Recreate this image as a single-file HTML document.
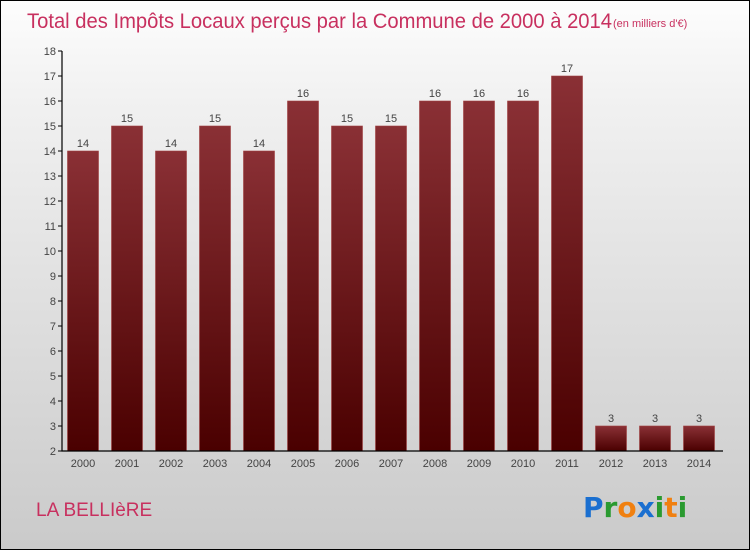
<!DOCTYPE html>
<html><head><meta charset="utf-8"><style>
body{margin:0}
#c{width:748px;height:548px;border:1px solid #000;background:linear-gradient(#fdfdfd,#f0f0f0 20%,#cacaca);position:relative;font-family:"Liberation Sans",sans-serif;overflow:hidden}
</style></head><body>
<div id="c">
<svg width="748" height="548">
<defs><linearGradient id="g" x1="0" y1="0" x2="0" y2="1"><stop offset="0" stop-color="#8a3035"/><stop offset="1" stop-color="#4a0000"/></linearGradient></defs>
<text x="26" y="27" font-size="21" fill="#c8305f" textLength="585" lengthAdjust="spacingAndGlyphs">Total des Impôts Locaux perçus par la Commune de 2000 à 2014</text>
<text x="612" y="26" font-size="11" fill="#c8305f">(en milliers d'€)</text>
<g id="plot"></g>
<text x="35" y="515" font-size="19" fill="#c8305f">LA BELLIèRE</text>
<g font-size="28" font-family="'DejaVu Sans',sans-serif" font-weight="bold">
<text x="582" y="516"><tspan fill="#1a6fd0">P</tspan><tspan fill="#2a9a30">r</tspan><tspan fill="#f08010">o</tspan><tspan fill="#1a6fd0">x</tspan><tspan fill="#2a9a30">i</tspan><tspan fill="#f08010">t</tspan><tspan fill="#2a9a30">i</tspan></text></g>
</svg></div>
<script>
const years=["2000","2001","2002","2003","2004","2005","2006","2007","2008","2009","2010","2011","2012","2013","2014"];
const values=[14,15,14,15,14,16,15,15,16,16,16,17,3,3,3];
const yTicks=[2,3,4,5,6,7,8,9,10,11,12,13,14,15,16,17,18];
const NS="http://www.w3.org/2000/svg",p=document.getElementById('plot');
const y=v=>450-(v-2)*25, x=i=>82+i*44;
function mk(t,a,txt){const e=document.createElementNS(NS,t);for(const k in a)e.setAttribute(k,a[k]);if(txt!=null)e.textContent=txt;p.appendChild(e);return e;}
yTicks.forEach(v=>{const l=mk('line',{x1:57,x2:61,y1:y(v),y2:y(v),stroke:'#000'});
const t=mk('text',{x:55,y:y(v)+4,'font-size':11,fill:'#444','text-anchor':'end'},v);});
values.forEach((v,i)=>{const r=mk('rect',{x:x(i)-15.5,y:y(v),width:31,height:450-y(v),fill:'url(#g)',stroke:'#a04040','stroke-width':0.6});
const t=mk('text',{x:x(i),y:y(v)-4,'font-size':11,fill:'#444','text-anchor':'middle'},v);
const l=mk('text',{x:x(i),y:466,'font-size':11,fill:'#444','text-anchor':'middle'},years[i]);});
const a=mk('path',{d:'M61 50V450H722',stroke:'#000',fill:'none','stroke-width':1.2});
</script></body></html>
